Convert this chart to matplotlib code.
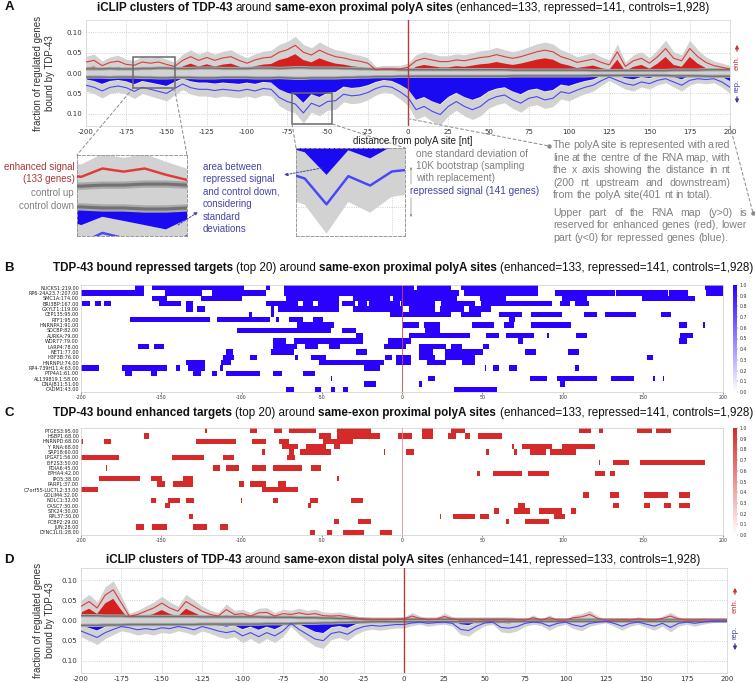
import numpy as np
import matplotlib
matplotlib.use('Agg')
import matplotlib.pyplot as plt
from matplotlib.colors import LinearSegmentedColormap
from matplotlib.patches import Rectangle, ConnectionPatch
from matplotlib.lines import Line2D

plt.rcParams['axes.unicode_minus'] = False

W, H, DPI = 755, 683, 100
SANS = ['Liberation Sans', 'DejaVu Sans']

# x positions of the RNA maps (nt from polyA site), one value every 5 nt
positions = np.arange(-200, 201, 5)
n_controls = 1928

# A: same-exon proximal polyA sites
enh_prox = [0.027, 0.031, 0.018, 0.026, 0.029, 0.021, 0.019, 0.027, 0.024, 0.027,
            0.021, 0.016, 0.031, 0.040, 0.031, 0.038, 0.031, 0.037, 0.040, 0.031,
            0.024, 0.032, 0.037, 0.039, 0.051, 0.057, 0.068, 0.051, 0.044, 0.056,
            0.047, 0.040, 0.037, 0.032, 0.029, 0.024, 0.008, 0.010, 0.010, 0.010,
            0.014, 0.030, 0.036, 0.032, 0.028, 0.028, 0.032, 0.030, 0.034, 0.038,
            0.040, 0.045, 0.040, 0.036, 0.040, 0.046, 0.052, 0.056, 0.052, 0.040,
            0.034, 0.026, 0.030, 0.034, 0.026, 0.020, 0.052, 0.016, 0.030, 0.036,
            0.024, 0.040, 0.060, 0.036, 0.030, 0.060, 0.040, 0.026, 0.018, 0.014,
            0.010]
rep_prox = [0.030, 0.035, 0.044, 0.035, 0.032, 0.036, 0.045, 0.035, 0.040, 0.045,
            0.050, 0.038, 0.027, 0.036, 0.040, 0.040, 0.043, 0.040, 0.042, 0.044,
            0.040, 0.044, 0.038, 0.040, 0.060, 0.070, 0.076, 0.098, 0.074, 0.082,
            0.070, 0.068, 0.052, 0.056, 0.054, 0.048, 0.038, 0.032, 0.035, 0.046,
            0.060, 0.090, 0.082, 0.094, 0.102, 0.082, 0.070, 0.082, 0.090, 0.082,
            0.066, 0.058, 0.054, 0.066, 0.074, 0.062, 0.058, 0.066, 0.062, 0.046,
            0.050, 0.042, 0.035, 0.030, 0.019, 0.010, 0.018, 0.026, 0.030, 0.022,
            0.026, 0.018, 0.014, 0.022, 0.030, 0.018, 0.014, 0.016, 0.014, 0.022,
            0.035]
ctrl_prox = [0.010, 0.010, 0.010, 0.011, 0.010, 0.010, 0.010, 0.011, 0.011, 0.012,
             0.012, 0.011, 0.011, 0.011, 0.012, 0.012, 0.012, 0.011, 0.011, 0.011,
             0.011, 0.012, 0.012, 0.012, 0.011, 0.012, 0.013, 0.013, 0.012, 0.012,
             0.012, 0.012, 0.011, 0.011, 0.010, 0.010, 0.009, 0.009, 0.009, 0.008,
             0.008, 0.008, 0.008, 0.008, 0.008, 0.008, 0.008, 0.008, 0.008, 0.008,
             0.008, 0.008, 0.008, 0.007, 0.007, 0.007, 0.007, 0.007, 0.007, 0.007,
             0.007, 0.007, 0.007, 0.006, 0.006, 0.006, 0.006, 0.006, 0.006, 0.006,
             0.006, 0.006, 0.006, 0.007, 0.007, 0.007, 0.007, 0.008, 0.008, 0.008,
             0.008]
n_enh_prox, n_rep_prox = 133, 141

# D: same-exon distal polyA sites
enh_dist = [0.035, 0.047, 0.031, 0.063, 0.076, 0.043, 0.010, 0.015, 0.023, 0.031,
            0.043, 0.031, 0.023, 0.047, 0.035, 0.023, 0.015, 0.011, 0.027, 0.015,
            0.017, 0.011, 0.019, 0.020, 0.011, 0.017, 0.015, 0.019, 0.015, 0.017,
            0.012, 0.011, 0.012, 0.009, 0.006, 0.002, 0.002, 0.002, 0.002, 0.003,
            0.004, 0.011, 0.005, 0.002, 0.003, 0.010, 0.004, 0.001, 0.001, 0.002,
            0.001, 0.001, 0.002, 0.001, 0.002, 0.001, 0.007, 0.001, 0.007, 0.001,
            0.001, 0.007, 0.009, 0.015, 0.005, 0.001, 0.001, 0.002, 0.001, 0.004,
            0.002, 0.001, 0.005, 0.011, 0.004, 0.001, 0.001, 0.002, 0.001, 0.001,
            0.001]
rep_dist = [0.026, 0.034, 0.042, 0.030, 0.022, 0.015, 0.018, 0.023, 0.020, 0.023,
            0.018, 0.020, 0.015, 0.018, 0.023, 0.015, 0.020, 0.026, 0.030, 0.026,
            0.038, 0.030, 0.040, 0.030, 0.038, 0.026, 0.007, 0.022, 0.034, 0.046,
            0.050, 0.032, 0.028, 0.034, 0.022, 0.015, 0.012, 0.014, 0.012, 0.010,
            0.010, 0.006, 0.004, 0.007, 0.005, 0.004, 0.007, 0.022, 0.025, 0.014,
            0.006, 0.004, 0.017, 0.019, 0.015, 0.007, 0.004, 0.006, 0.014, 0.007,
            0.004, 0.011, 0.015, 0.007, 0.004, 0.002, 0.007, 0.014, 0.007, 0.004,
            0.009, 0.014, 0.007, 0.017, 0.007, 0.004, 0.007, 0.004, 0.002, 0.001,
            0.001]
ctrl_dist = [0.012, 0.012, 0.012, 0.011, 0.011, 0.011, 0.010, 0.010, 0.010, 0.010,
             0.010, 0.010, 0.010, 0.010, 0.010, 0.009, 0.009, 0.009, 0.009, 0.009,
             0.009, 0.009, 0.009, 0.008, 0.008, 0.008, 0.008, 0.007, 0.007, 0.007,
             0.006, 0.006, 0.005, 0.005, 0.004, 0.004, 0.003, 0.003, 0.003, 0.003,
             0.003, 0.003, 0.003, 0.003, 0.003, 0.003, 0.003, 0.003, 0.003, 0.003,
             0.003, 0.003, 0.003, 0.003, 0.002, 0.002, 0.002, 0.002, 0.002, 0.002,
             0.002, 0.002, 0.002, 0.002, 0.002, 0.002, 0.002, 0.002, 0.002, 0.002,
             0.002, 0.002, 0.002, 0.002, 0.002, 0.002, 0.002, 0.002, 0.002, 0.002,
             0.002]
n_enh_dist, n_rep_dist = 141, 133

# B: top 20 bound repressed targets, covered positions (start, end) in nt
rep_genes = ['NUCKS1', 'RP6-24A23.7', 'SMC1A', 'BRI3BP', 'GXYLT1', 'CEP135', 'RTF1',
             'HNRNPA1', 'SDCBP', 'AURKA', 'WDR77', 'LARP4', 'NET1', 'H3F3B', 'HNRNPU',
             'RP4-739H11.4', 'PTP4A1', 'AL139819.1', 'DNAJB11', 'CADM1']
rep_scores = [219, 207, 174, 167, 119, 95, 95, 91, 82, 79, 79, 78, 77, 76, 74,
              63, 61, 58, 51, 43]
rep_segments = [
    [(-166, -161), (-155, -99), (-84, -83), (-73, 7), (10, 30), (37, 84), (189, 201)],
    [(-200, -161), (-147, -125), (-118, -85), (-73, 35), (39, 84), (96, 132), (134, 165),
     (167, 178), (190, 201)],
    [(-155, -147), (-125, -100), (-72, -40), (-30, -8), (-5, 34), (49, 64), (100, 115),
     (150, 182)],
    [(-199, -195), (-191, -188), (-185, -182), (-151, -138), (-134, -131), (-84, -65),
     (-61, -56), (-52, -40), (-37, -30), (-27, -22), (-20, -2), (0, 20), (25, 45), (50, 93),
     (99, 104), (108, 116)],
    [(-134, -131), (-127, -123), (-81, -80), (-77, -40), (-30, 0), (5, 20), (24, 38), (42, 55)],
    [(-95, -94), (-81, -80), (-7.5, 30), (37, 49), (61, 74), (81, 99), (114, 121), (127, 145),
     (162, 167.5)],
    [(-169.5, -120), (-115, -83), (-78, -77), (-70, -61.5), (-55, -50), (66.5, 70.6)],
    [(-65.6, -42.7), (0.8, 10.2), (13.3, 23.8), (43.5, 57), (63.3, 69.6), (81, 105),
     (172.7, 177.9), (187.3, 188.3)],
    [(-102, -45), (-37.5, -29), (14.4, 23.8)],
    [(-28, -25), (5, 42.5), (52.9, 59), (60, 60.5), (64.4, 82), (90.4, 91.5), (109, 115.4),
     (173.8, 181)],
    [(-80, -73), (-67.6, -25), (-8.5, 5), (72.7, 75.8), (172.7, 177.9)],
    [(-164, -158), (-154, -148.7), (-80, -66), (-60.4, -53), (-45.8, -38.6), (-11.7, 2.9),
     (10.2, 27.9), (31, 37.3), (50.8, 54)],
    [(-109, -106), (-81, -67.6), (-28, -22), (10.2, 19.6), (26.9, 50.8), (76.9, 83), (104, 110)],
    [(-111, -105), (-94.7, -90.5), (-66, -64.5), (-56, -48), (-10.6, -6.5), (-3.3, 5),
     (10.2, 20), (27, 45), (152.9, 156)],
    [(-134, -122.7), (-112, -107), (-51, -11.7), (-3.3, 5), (15.4, 27.9), (37.3, 45.6)],
    [(-200, -188.6), (-174, -147), (-140.4, -138.3), (-133.7, -122.7), (-113.4, -111.3),
     (-23, -13.6), (51.9, 52.9), (57, 60), (66.5, 71.7), (108, 110)],
    [(-172.6, -168.4), (-156.6, -152.8), (-130, -125.8), (-118.6, -115.4), (-109, -88.4),
     (-80, -75), (-61.4, -55)],
    [(-44.8, -43.7), (16.5, 20.6), (80, 90.4), (96.7, 121.7), (131, 144.6), (156.7, 157.2),
     (162.8, 163.3)],
    [(-23, -16.7), (10.2, 12.9), (98.8, 101.9)],
    [(-72.8, -67.6), (-54, -51), (-44.8, -41.7), (-36.5, -33.4), (33, 59)],
]

# C: top 20 bound enhanced targets
enh_genes = ['PTGES3', 'HSBP1', 'HNRNPD', 'Y_RNA', 'SAP18', 'LPGAT1', 'EIF2S3', 'PDIA6',
             'EPHA4', 'IPO5', 'PARP1', 'C7orf55-LUC7L2', 'GOLIM4', 'NOLC1', 'CASC7', 'STK24',
             'RPL37', 'PCBP2', 'JUN', 'DYNC1LI1']
enh_scores = [95, 68, 68, 68, 60, 56, 50, 45, 42, 38, 37, 33, 32, 32, 30, 30, 30, 29, 28, 28]
enh_segments = [
    [(-122.7, -121.7), (-94.7, -90.5), (-79.7, -74.9), (-70.8, -53.1), (-40.6, -19.9),
     (12.3, 19.2), (31, 39.4), (111, 117.5), (122.7, 125.8), (146.7, 155.4), (159, 167.5)],
    [(-160.1, -157.4), (-51, -44.8), (-40.6, -13.6), (-2.3, 6), (12.3, 19.2), (29, 33),
     (39.4, 42.5), (47.7, 62.3)],
    [(-200, -199), (-185.5, -181.3), (-128.9, -104), (-93.6, -84.3), (-76.6, -70.1), (-49, -30.2)],
    [(-74.3, -65), (-59.3, -47.9), (-42.1, -38.1), (68.5, 69.2), (74.8, 93.5), (99.8, 120.6)],
    [(-87, -85.3), (-70.8, -67.6), (-63.9, -44.2), (-11.7, -10.6), (2.9, 7), (53, 54),
     (69.6, 71.7), (79.6, 89.4), (92.5, 108)],
    [(-200, -176.3), (-143.1, -123.1), (-111.9, -105), (-71.8, -67)],
    [(122.7, 123.7), (131.7, 141.5), (148.8, 188)],
    [(-184.4, -183.6), (-117.1, -113.4), (-109.2, -101.9), (-93, -84.3), (-80.9, -62.5),
     (-56.2, -51)],
    [(46.3, 48.3), (56.3, 74.2), (78.3, 91.5), (120.6, 126.9), (129.6, 132.7)],
    [(-188.6, -163.2), (-156, -149.1), (-136, -131), (-40, -39.2)],
    [(-152, -147.2), (-142.2, -131), (-101.3, -98.2), (-94.2, -84.3), (-77.9, -72.2)],
    [(-200, -189.6), (-87, -65)],
    [(112.7, 116.5), (130, 135.6), (150.2, 165.8), (173, 179)],
    [(-156.4, -153.5), (-145.1, -138.3), (-134.1, -129.4), (-100.3, -99.4), (-80, -77.4),
     (-57.7, -52.1), (-31.9, -25)],
    [(-147.2, -144.5), (-114.8, -114.4), (-58.9, -56.2), (72.7, 76.3), (132, 135.6),
     (150.8, 154), (163.3, 167.5), (173, 179)],
    [(57.7, 60.2), (69.6, 79.4), (85.6, 99.4), (106, 108.5)],
    [(-132.5, -131), (23.8, 24.4), (31.7, 45), (48.3, 54.4), (94.6, 101.5)],
    [(-42.7, -40), (-27.8, -19.2), (64.4, 66.5), (76.5, 91.5)],
    [(-165.3, -160.5), (-155.3, -146.6), (-130, -121.3), (-113.4, -108.2)],
    [(-57.7, -54.1), (-46.9, -43.1), (-36.9, -23.4), (-13, -6.9)],
]

RED = '#d61f1f'
RED_LINE = '#e03a3a'
BLUE = '#1a0af2'
BLUE_LINE = '#4646ff'
BAND = '#d2d2d2'
POLYA = '#b83a3a'
ENH_TXT = '#a83838'
REP_TXT = '#4646a8'
GRAY_TXT = '#808080'


def fxy(x, y):
    # pixel position (from top left) -> figure fraction
    return x / W, 1 - y / H


def add_px_axes(fig, x0, y0, x1, y1):
    return fig.add_axes([x0 / W, 1 - y1 / H, (x1 - x0) / W, (y1 - y0) / H])


def rna_map(ax, enh, rep, ctrl, n_enh, n_rep, scale=1.0):
    enh, rep, ctrl = np.asarray(enh), np.asarray(rep), np.asarray(ctrl)
    assert enh.size == rep.size == ctrl.size == positions.size
    # bootstrap standard deviation of a proportion
    sd_e = np.sqrt(enh * (1 - enh) / n_enh)
    sd_r = np.sqrt(rep * (1 - rep) / n_rep)
    sd_c = np.sqrt(ctrl * (1 - ctrl) / n_controls)
    top_c = ctrl + sd_c
    ax.fill_between(positions, -top_c, top_c, color=BAND, lw=0, zorder=1)
    ax.fill_between(positions, enh - sd_e, enh + sd_e, color=BAND, lw=0, zorder=1)
    ax.fill_between(positions, -rep - sd_r, -rep + sd_r, color=BAND, lw=0, zorder=1)
    lo_e = enh - sd_e
    ax.fill_between(positions, top_c, lo_e, where=lo_e > top_c, interpolate=True,
                    color=RED, lw=0, zorder=2)
    lo_r = rep - sd_r
    ax.fill_between(positions, -top_c, -lo_r, where=lo_r > top_c, interpolate=True,
                    color=BLUE, lw=0, zorder=2)
    for s in (1, -1):
        ax.plot(positions, s * ctrl, color='#a8a8a8', lw=2.4 * scale, zorder=3)
        ax.plot(positions, s * ctrl, color='#727272', lw=1.0 * scale, zorder=3)
    ax.plot(positions, enh, color=RED_LINE, lw=0.8 * scale, zorder=4)
    ax.plot(positions, -rep, color=BLUE_LINE, lw=0.8 * scale, zorder=4)
    ax.axvline(0, color=POLYA, lw=1.0, zorder=5)
    ax.set_xlim(-200, 200)
    ax.set_ylim(-0.13, 0.13)
    ax.set_xticks(np.arange(-200, 201, 25))
    ax.set_yticks([-0.1, -0.05, 0, 0.05, 0.1])
    ax.set_yticklabels(['0.10', '0.05', '0.00', '0.05', '0.10'])
    ax.grid(True, ls=':', color='#c4c4c4', lw=0.6)
    ax.set_axisbelow(True)
    ax.tick_params(labelsize=5, length=0, pad=2.5, colors='#333333')
    for sp in ax.spines.values():
        sp.set_color('#d8d8d8')
        sp.set_linewidth(0.6)


def inset(fig, box, xlim, ylim, data):
    ax = add_px_axes(fig, *box)
    rna_map(ax, *data, scale=2.2)
    ax.set_xlim(*xlim)
    ax.set_ylim(*ylim)
    ax.tick_params(length=0, labelbottom=False, labelleft=False)
    for sp in ax.spines.values():
        sp.set_color('#9a9a9a')
        sp.set_linestyle((0, (3, 2)))
        sp.set_linewidth(0.7)
    return ax


def side_labels(fig, x, y_enh, y_rep):
    fig.text(*fxy(x, y_enh), 'enh.', rotation=90, ha='center', va='center',
             fontsize=5.5, color='#cc3333', family=SANS)
    fig.text(*fxy(x, y_rep), 'rep.', rotation=90, ha='center', va='center',
             fontsize=5.5, color='#3a3aa0', family=SANS)
    ap = dict(arrowstyle='-|>', lw=0.9, mutation_scale=5)
    fig.add_artist(plt.matplotlib.text.Annotation(
        '', xy=fxy(x, y_enh - 21), xytext=fxy(x, y_enh - 9), xycoords='figure fraction',
        arrowprops=dict(ap, color='#cc3333')))
    fig.add_artist(plt.matplotlib.text.Annotation(
        '', xy=fxy(x, y_rep + 21), xytext=fxy(x, y_rep + 9), xycoords='figure fraction',
        arrowprops=dict(ap, color='#3a3aa0')))


def heatmap(fig, ax, cax, genes, scores, segments, color, line_color):
    cols = np.arange(-200, 201)
    mat = np.zeros((len(genes), cols.size))
    for i, segs in enumerate(segments):
        for s, e in segs:
            mat[i, (cols >= s) & (cols <= e)] = 1.0
    cmap = LinearSegmentedColormap.from_list('m', ['#ffffff', color])
    im = ax.imshow(mat, cmap=cmap, vmin=0, vmax=1, aspect='auto', interpolation='nearest',
                   extent=(-200.5, 200.5, len(genes) - 0.5, -0.5))
    ax.set_xlim(-200, 200)
    ax.axvline(0, color=line_color, lw=0.6)
    ax.set_yticks(range(len(genes)))
    ax.set_yticklabels(['{}:{:.2f}'.format(g, s) for g, s in zip(genes, scores)], fontsize=3.5)
    ax.set_xticks(np.arange(-200, 201, 50))
    ax.tick_params(axis='x', labelsize=3.4, length=1.2, width=0.4, pad=1, colors='#333333')
    ax.tick_params(axis='y', length=0, pad=1.5, colors='#222222')
    for sp in ax.spines.values():
        sp.set_color('#cccccc')
        sp.set_linewidth(0.5)
    cb = fig.colorbar(im, cax=cax, ticks=np.linspace(0, 1, 11))
    cb.ax.tick_params(labelsize=3.4, length=1, width=0.3, pad=1, colors='#333333')
    cb.ax.yaxis.set_major_formatter('{x:.1f}')
    cb.outline.set_visible(False)


def measure(fig, text, size, weight):
    r = fig.canvas.get_renderer()
    t = fig.text(0, 0, text, fontsize=size, fontweight=weight, family=SANS)
    w = t.get_window_extent(r).width
    t.remove()
    return w


def rich_text(fig, xc, y, parts, size):
    space = measure(fig, 'a a', size, 'normal') - measure(fig, 'aa', size, 'normal')
    widths = [measure(fig, s, size, w) for s, w in parts]
    x = xc - (sum(widths) + space * (len(parts) - 1)) / 2
    for (s, w), wd in zip(parts, widths):
        fig.text(*fxy(x, y), s, fontsize=size, fontweight=w, family=SANS,
                 va='center', ha='left', color='#111111')
        x += wd + space


def justified(fig, lines, x0, x1, y0, dy, size, color):
    space = measure(fig, 'a a', size, 'normal') - measure(fig, 'aa', size, 'normal')
    for i, line in enumerate(lines):
        words = line.split()
        widths = [measure(fig, wd, size, 'normal') for wd in words]
        last = i == len(lines) - 1
        gap = space if last else (x1 - x0 - sum(widths)) / (len(words) - 1)
        x = x0
        for wd, w in zip(words, widths):
            fig.text(*fxy(x, y0 + i * dy), wd, fontsize=size, family=SANS,
                     va='center', ha='left', color=color)
            x += w + gap


def text_px(fig, x, y, s, **kw):
    kw.setdefault('family', SANS)
    kw.setdefault('va', 'center')
    return fig.text(*fxy(x, y), s, **kw)


def arrow_px(fig, start, end, color, style='-|>', ls='-', lw=0.7, ms=5):
    fig.add_artist(plt.matplotlib.text.Annotation(
        '', xy=fxy(*end), xytext=fxy(*start), xycoords='figure fraction',
        arrowprops=dict(arrowstyle=style, color=color, lw=lw, ls=ls, mutation_scale=ms,
                        shrinkA=0, shrinkB=0)))


fig = plt.figure(figsize=(W / DPI, H / DPI), dpi=DPI)

# ---------------- panel A
prox = (enh_prox, rep_prox, ctrl_prox, n_enh_prox, n_rep_prox)
ax_a = add_px_axes(fig, 86, 20, 730, 126)
rna_map(ax_a, *prox)
box1 = Rectangle((-171, -0.038), 26, 0.078, fill=False, ec='#6a6a6a', lw=1.1, zorder=6)
box2 = Rectangle((-72, -0.125), 25, 0.075, fill=False, ec='#6a6a6a', lw=1.1, zorder=6)
ax_a.add_patch(box1)
ax_a.add_patch(box2)
side_labels(fig, 737, 63, 85)

ins1 = inset(fig, (77, 155, 187, 236), (-171, -145), (-0.038, 0.04), prox)
ins2 = inset(fig, (296, 148, 405, 236), (-72, -47), (-0.125, -0.05), prox)
dash = dict(color='#8a8a8a', lw=0.7, ls=(0, (3, 2.5)))
for xa, ins, xb in [(-171, ins1, 0), (-145, ins1, 1)]:
    fig.add_artist(ConnectionPatch((xa, -0.038), (xb, 1), ax_a.transData, ins.transAxes, **dash))
for xa, ins, xb in [(-72, ins2, 0), (-47, ins2, 1)]:
    fig.add_artist(ConnectionPatch((xa, -0.125), (xb, 1), ax_a.transData, ins.transAxes, **dash))
fig.add_artist(ConnectionPatch((0, -0.112), (549, H - 146), ax_a.transData, 'figure pixels', **dash))
fig.add_artist(ConnectionPatch((200, -0.13), (753, H - 213), ax_a.transData, 'figure pixels', **dash))
for x, y in [(549, 146), (753, 213)]:
    fig.add_artist(Line2D([x / W], [1 - y / H], marker='o', ms=2.2, color='#8a8a8a',
                          transform=fig.transFigure))

text_px(fig, 413, 141, 'distance from polyA site [nt]', ha='center', fontsize=7, color='#222222')
ylab = 'fraction of regulated genes\nbound by TDP-43'
text_px(fig, 44, 73, ylab, ha='center', rotation=90, fontsize=7, color='#333333',
        linespacing=1.25, multialignment='center')

# inset annotations
text_px(fig, 75, 167, 'enhanced signal', ha='right', fontsize=7, color=ENH_TXT)
text_px(fig, 75, 179, '(133 genes)', ha='right', fontsize=7, color=ENH_TXT)
text_px(fig, 74, 193, 'control up', ha='right', fontsize=7, color=GRAY_TXT)
text_px(fig, 74, 206, 'control down', ha='right', fontsize=7, color=GRAY_TXT)
for i, s in enumerate(['area between', 'repressed signal', 'and control down,',
                       'considering', 'standard', 'deviations']):
    text_px(fig, 203, 167 + i * 12.4, s, ha='left', fontsize=7, color=REP_TXT)
arrow_px(fig, (322, 168), (284, 175), REP_TXT, ls=(0, (2, 1.5)))
arrow_px(fig, (178, 225), (198, 212), REP_TXT, ls=(0, (2, 1.5)))
for i, s in enumerate(['one standard deviation of', '10K bootstrap (sampling',
                       'with replacement)']):
    text_px(fig, 416, 154 + i * 12.2, s, ha='left', fontsize=7.2, color=GRAY_TXT)
text_px(fig, 410, 191, 'repressed signal (141 genes)', ha='left', fontsize=7.2, color=REP_TXT)
arrow_px(fig, (411, 184), (411, 167), '#8a8a8a', lw=0.5, ms=3)
arrow_px(fig, (411, 198), (411, 217), '#8a8a8a', lw=0.5, ms=3)

justified(fig, ['The polyA site is represented with a red',
                'line at the centre of the RNA map, with',
                'the x axis showing the distance in nt',
                '(200 nt upstream and downstream)',
                'from the polyA site(401 nt in total).'],
          553, 730, 145.5, 12.4, 7.6, GRAY_TXT)
justified(fig, ['Upper part of the RNA map (y>0) is',
                'reserved for enhanced genes (red), lower',
                'part (y<0) for repressed genes (blue).'],
          553, 747, 213, 12.5, 7.6, GRAY_TXT)

# ---------------- panels B and C
ax_b = add_px_axes(fig, 81, 285, 723, 392)
cax_b = add_px_axes(fig, 733, 285, 737, 392)
heatmap(fig, ax_b, cax_b, rep_genes, rep_scores, rep_segments, '#2a00ff', '#d04848')
ax_c = add_px_axes(fig, 81, 428, 723, 535)
cax_c = add_px_axes(fig, 733, 428, 737, 535)
heatmap(fig, ax_c, cax_c, enh_genes, enh_scores, enh_segments, '#d42a2a', '#e08a8a')

# ---------------- panel D
ax_d = add_px_axes(fig, 81, 568, 727, 673)
rna_map(ax_d, enh_dist, rep_dist, ctrl_dist, n_enh_dist, n_rep_dist)
side_labels(fig, 735, 606, 632)
text_px(fig, 44, 620, ylab, ha='center', rotation=90, fontsize=7, color='#333333',
        linespacing=1.25, multialignment='center')

# ---------------- titles and panel letters
counts_prox = '(enhanced=133, repressed=141, controls=1,928)'
tsize = 8.4
rich_text(fig, 403, 8, [('iCLIP clusters of TDP-43', 'bold'), ('around', 'normal'),
                        ('same-exon proximal polyA sites', 'bold'), (counts_prox, 'normal')], tsize)
rich_text(fig, 403, 268, [('TDP-43 bound repressed targets', 'bold'), ('(top 20) around', 'normal'),
                          ('same-exon proximal polyA sites', 'bold'), (counts_prox, 'normal')], tsize)
rich_text(fig, 403, 413, [('TDP-43 bound enhanced targets', 'bold'), ('(top 20) around', 'normal'),
                          ('same-exon proximal polyA sites', 'bold'), (counts_prox, 'normal')], tsize)
rich_text(fig, 403, 560, [('iCLIP clusters of TDP-43', 'bold'), ('around', 'normal'),
                          ('same-exon distal polyA sites', 'bold'),
                          ('(enhanced=141, repressed=133, controls=1,928)', 'normal')], tsize)
for letter, y in [('A', 7), ('B', 268), ('C', 413), ('D', 560)]:
    text_px(fig, 9, y, letter, ha='center', fontsize=9.5, fontweight='bold', color='#111111')

fig.savefig('out.png', dpi=DPI)
